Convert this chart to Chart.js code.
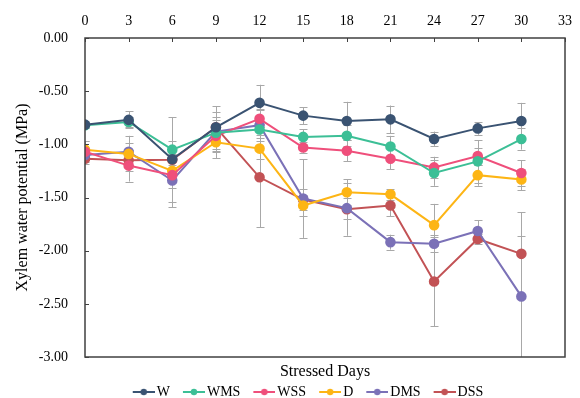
<!DOCTYPE html>
<html>
<head>
<meta charset="utf-8">
<script src="https://cdn.jsdelivr.net/npm/chart.js@4.4.0/dist/chart.umd.min.js"></script>
<style>
html,body{margin:0;padding:0;background:#fff;}
#wrap{width:580px;height:398px;}
</style>
</head>
<body>
<div id="wrap"><canvas id="c" width="580" height="398"></canvas></div>
<script>
const days = [0, 3, 6, 9, 12, 15, 18, 21, 24, 27, 30];
const seriesNames = ["W", "WMS", "WSS", "D", "DMS", "DSS"];
const W   = [-0.815, -0.77, -1.14, -0.84, -0.61, -0.73, -0.78, -0.765, -0.95, -0.85, -0.78];
const WMS = [-0.82, -0.79, -1.05, -0.89, -0.86, -0.93, -0.92, -1.02, -1.27, -1.16, -0.95];
const WSS = [-1.07, -1.20, -1.29, -0.92, -0.76, -1.03, -1.06, -1.135, -1.217, -1.11, -1.27];
const D   = [-1.05, -1.09, -1.25, -0.98, -1.04, -1.575, -1.45, -1.47, -1.76, -1.29, -1.33];
const DMS = [-1.10, -1.07, -1.34, -0.88, -0.82, -1.51, -1.60, -1.92, -1.935, -1.815, -2.43];
const DSS = [-1.135, -1.15, -1.145, -0.84, -1.31, -1.52, -1.61, -1.575, -2.29, -1.89, -2.03];
const W_err   = [0.03, 0.08, 0.05, 0.10, 0.17, 0.08, 0.18, 0.13, 0.07, 0.06, 0.17];
const WMS_err = [0.03, 0.05, 0.08, 0.06, 0.05, 0.07, 0.10, 0.10, 0.12, 0.20, 0.10];
const WSS_err = [0.10, 0.15, 0.12, 0.15, 0.08, 0.05, 0.10, 0.10, 0.10, 0.08, 0.12];
const D_err   = [0.08, 0.10, 0.10, 0.15, 0.10, 0.10, 0.12, 0.05, 0.20, 0.10, 0.10];
const DMS_err = [0.05, 0.15, 0.25, 0.18, 0.15, 0.37, 0.10, 0.07, 0.08, 0.10, 0.57];
const DSS_err = [0.05, 0.10, 0.40, 0.20, 0.47, 0.10, 0.25, 0.10, 0.42, 0.05, 0.39];
const xTicks = [0, 3, 6, 9, 12, 15, 18, 21, 24, 27, 30, 33];
const yTicks = [0, -0.5, -1, -1.5, -2, -2.5, -3];

const colors = ["#3a5372", "#3cbf96", "#ef4f7b", "#fdb515", "#7b71b7", "#c25255"];
const values = [W, WMS, WSS, D, DMS, DSS];
const errors = [W_err, WMS_err, WSS_err, D_err, DMS_err, DSS_err];
const FONT = "'Liberation Serif', 'Times New Roman', serif";

function legendMarker(color) {
  const c = document.createElement('canvas');
  c.width = 36; c.height = 10;
  const g = c.getContext('2d');
  g.strokeStyle = color; g.lineWidth = 2;
  g.beginPath(); g.moveTo(14, 5); g.lineTo(36, 5); g.stroke();
  g.fillStyle = color;
  g.beginPath(); g.arc(25, 5, 3.2, 0, Math.PI * 2); g.fill();
  return c;
}

const datasets = seriesNames.map((name, i) => ({
  label: name,
  data: days.map((d, j) => ({ x: d, y: values[i][j] })),
  errs: errors[i],
  borderColor: colors[i],
  backgroundColor: colors[i],
  pointBackgroundColor: colors[i],
  pointBorderColor: colors[i],
  pointRadius: 4.3,
  borderWidth: 2,
  pointStyle: 'circle',
  legendMarker: legendMarker(colors[i]),
  tension: 0,
  fill: false
}));

const frame = {
  id: 'frame',
  beforeDatasetsDraw(chart) {
    const ctx = chart.ctx, a = chart.chartArea;
    const xs = chart.scales.x, ys = chart.scales.y;
    ctx.save();
    ctx.beginPath();
    ctx.rect(a.left, a.top, a.right - a.left, a.bottom - a.top);
    ctx.clip();
    ctx.strokeStyle = '#a8a8a8';
    ctx.lineWidth = 1;
    chart.data.datasets.forEach(ds => {
      ds.data.forEach((p, j) => {
        const e = ds.errs[j];
        const px = Math.round(xs.getPixelForValue(p.x)) + 0.5;
        const y1 = ys.getPixelForValue(p.y + e);
        const y2 = ys.getPixelForValue(p.y - e);
        ctx.beginPath();
        ctx.moveTo(px, y1); ctx.lineTo(px, y2);
        ctx.moveTo(px - 4, Math.round(y1) + 0.5); ctx.lineTo(px + 4, Math.round(y1) + 0.5);
        ctx.moveTo(px - 4, Math.round(y2) + 0.5); ctx.lineTo(px + 4, Math.round(y2) + 0.5);
        ctx.stroke();
      });
    });
    ctx.restore();
  },
  afterDraw(chart) {
    const ctx = chart.ctx, a = chart.chartArea;
    const xs = chart.scales.x, ys = chart.scales.y;
    ctx.save();
    ctx.strokeStyle = '#404040';
    ctx.lineWidth = 1.5;
    ctx.strokeRect(a.left, a.top, a.right - a.left, a.bottom - a.top);
    ctx.lineWidth = 1;
    ctx.beginPath();
    xTicks.forEach(v => {
      const px = Math.round(xs.getPixelForValue(v)) + 0.5;
      ctx.moveTo(px, a.top); ctx.lineTo(px, a.top + 4);
    });
    yTicks.forEach(v => {
      const py = Math.round(ys.getPixelForValue(v)) + 0.5;
      ctx.moveTo(a.left, py); ctx.lineTo(a.left + 4, py);
    });
    ctx.stroke();
    ctx.restore();
  }
};

new Chart(document.getElementById('c'), {
  type: 'line',
  data: { datasets },
  plugins: [frame],
  options: {
    responsive: false,
    animation: false,
    devicePixelRatio: 1,
    layout: { padding: { left: 36, right: 9, top: 0, bottom: -11 } },
    plugins: {
      tooltip: { enabled: false },
      legend: {
        position: 'bottom',
        labels: {
          usePointStyle: true,
          pointStyleWidth: 26,
          padding: 4,
          color: '#000',
          font: { family: FONT, size: 14 },
          generateLabels(chart) {
            return chart.data.datasets.map((ds, i) => ({
              text: ds.label,
              pointStyle: ds.legendMarker,
              fillStyle: ds.borderColor,
              strokeStyle: ds.borderColor,
              lineWidth: 0,
              hidden: false,
              datasetIndex: i,
              fontColor: '#000'
            }));
          }
        }
      }
    },
    scales: {
      x: {
        type: 'linear',
        position: 'top',
        min: 0, max: 33,
        afterBuildTicks(s) { s.ticks = xTicks.map(v => ({ value: v })); },
        ticks: { color: '#000', font: { family: FONT, size: 14 }, padding: 8, maxRotation: 0, autoSkip: false },
        grid: { display: false, drawTicks: false },
        border: { display: false },
        afterFit(s) { s.height = 38; }
      },
      xb: {
        type: 'linear',
        position: 'bottom',
        min: 0, max: 33,
        ticks: { display: false },
        grid: { display: false, drawTicks: false },
        border: { display: false },
        title: { display: true, text: 'Stressed Days', color: '#000', font: { family: FONT, size: 16 }, padding: { top: 0, bottom: 0 } },
        afterFit(s) { s.height = 24; }
      },
      y: {
        type: 'linear',
        min: -3, max: 0,
        afterBuildTicks(s) { s.ticks = yTicks.map(v => ({ value: v })); },
        ticks: { color: '#000', font: { family: FONT, size: 14 }, padding: 17, callback: v => v.toFixed(2) },
        grid: { display: false, drawTicks: false },
        border: { display: false },
        title: { display: true, text: 'Xylem water potential (MPa)', color: '#000', font: { family: FONT, size: 16 }, padding: { top: -23, bottom: 0 } },
        afterFit(s) { s.width = 49; }
      }
    }
  }
});
</script>
</body>
</html>
